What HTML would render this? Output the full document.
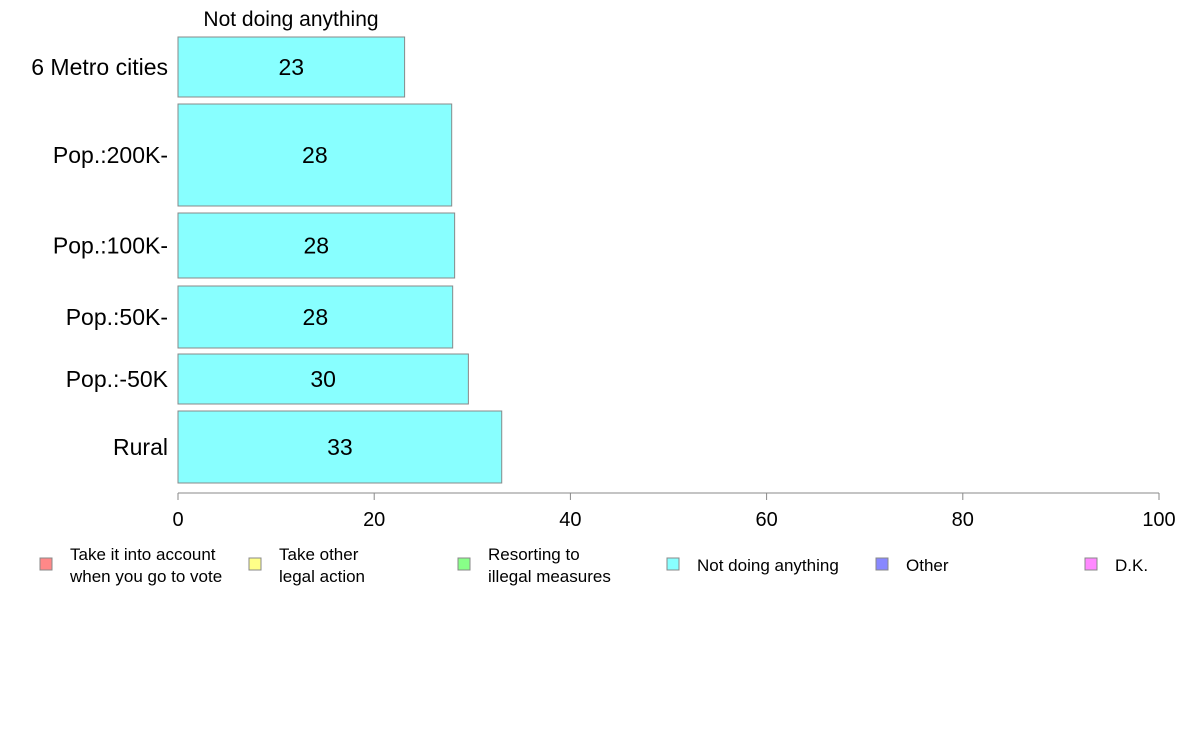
<!DOCTYPE html>
<html><head><meta charset="utf-8"><style>
body{margin:0;background:#fff;font-family:"Liberation Sans",sans-serif;}
svg{display:block}
</style></head><body>
<svg id="chart" width="1188" height="736" xmlns="http://www.w3.org/2000/svg" font-family="Liberation Sans, sans-serif"></svg>
<script>
const categories = ["6 Metro cities","Pop.:200K-","Pop.:100K-","Pop.:50K-","Pop.:-50K","Rural"];
const values = [23.1, 27.9, 28.2, 28.0, 29.6, 33.0];
const valueLabels = ["23","28","28","28","30","33"];
const tickValues = [0,20,40,60,80,100];
const legendLabels = [["Take it into account","when you go to vote"],["Take other","legal action"],["Resorting to","illegal measures"],["Not doing anything"],["Other"],["D.K."]];
const legendColors = ["#ff8888","#ffff88","#88ff88","#88ffff","#8888ff","#ff88ff"];
const seriesTitle = "Not doing anything";

// layout (not data)
const bandTops = [37,104,213,286,354,411];
const bandHeights = [60,102,65,62,50,72];
const x0 = 178, x1 = 1159, axisY = 493;
const xScale = v => x0 + (v/100)*(x1-x0);

const svg = document.getElementById('chart');
const NS = "http://www.w3.org/2000/svg";
function mk(tag, attrs, parent){const e=document.createElementNS(NS,tag);for(const k in attrs)e.setAttribute(k,attrs[k]);(parent||svg).appendChild(e);return e;}

const title = mk('text',{x:291,y:26,'font-size':21,'text-anchor':'middle',fill:'#000'});
title.textContent = seriesTitle;



categories.forEach((c,i)=>{
  const cy = bandTops[i]+bandHeights[i]/2;
  const lab = mk('text',{x:168,y:cy+8,'font-size':23,'text-anchor':'end',fill:'#000'});
  lab.textContent = c;
  
  
  const r = mk('rect',{x:x0,y:bandTops[i],width:xScale(values[i])-x0,height:bandHeights[i],fill:'#88ffff',stroke:'#888','stroke-width':1});
  
  
  const vt = mk('text',{x:(x0+xScale(values[i]))/2,y:cy+8,'font-size':23,'text-anchor':'middle',fill:'#000'});
  vt.textContent = valueLabels[i];
  
  
});

const ax = mk('line',{x1:x0,y1:axisY,x2:x1,y2:axisY,stroke:'#888','stroke-width':1});


tickValues.forEach(t=>{
  const tx = xScale(t);
  const tk = mk('line',{x1:tx,y1:axisY,x2:tx,y2:axisY+7,stroke:'#888','stroke-width':1});
  
  
  const tl = mk('text',{x:tx,y:526,'font-size':20,'text-anchor':'middle',fill:'#000'});
  tl.textContent = t;
  
  
});

legendLabels.forEach((lines,i)=>{
  const bx = 37 + i*209;
  const g = mk('g',{});
  
  
  mk('rect',{x:bx+3,y:558,width:12,height:12,fill:legendColors[i],stroke:'#888','stroke-width':1},g);
  lines.forEach((ln,j)=>{
    const ty = lines.length===1 ? 571 : 560 + j*22;
    const t = mk('text',{x:bx+33,y:ty,'font-size':17,fill:'#000'},g);
    t.textContent = ln;
  });
});
</script>
</body></html>
